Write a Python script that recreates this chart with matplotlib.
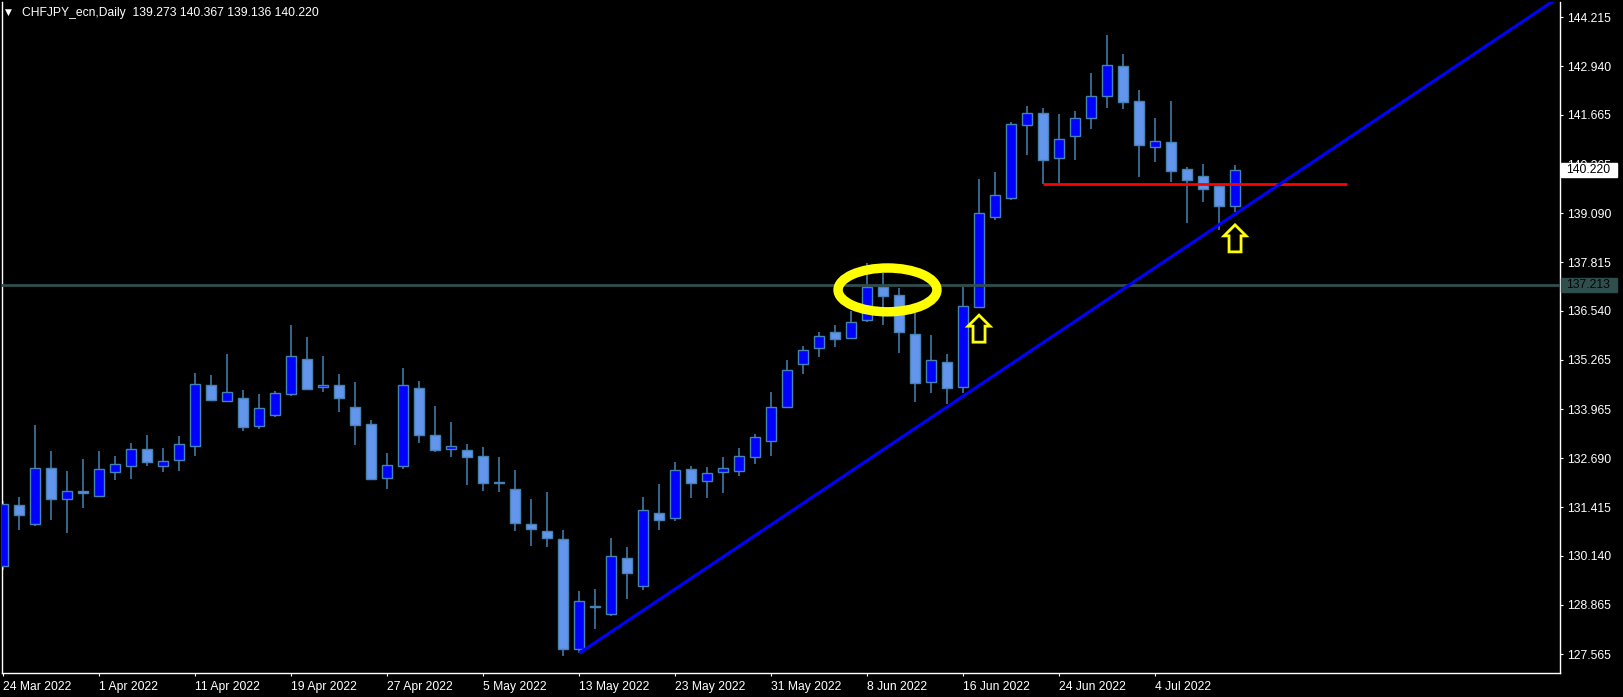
import numpy as np
import pandas as pd
import matplotlib
matplotlib.use("Agg")
from matplotlib import pyplot as plt
from matplotlib import patches, transforms

plt.rcParams['font.family'] = ['Liberation Sans', 'DejaVu Sans']

# daily bars, 24 Mar 2022 .. 11 Jul 2022
dates = pd.bdate_range("2022-03-24", "2022-07-11")

opens = [129.87, 131.47, 130.98, 132.43, 131.63, 131.83, 131.71, 132.32, 132.48, 132.92,
         132.48, 132.65, 133.00, 134.60, 134.18, 134.27, 133.54, 133.83, 134.38, 135.28,
         134.54, 134.60, 134.03, 133.58, 132.17, 132.50, 134.53, 133.29, 132.92, 132.91,
         132.75, 132.07, 131.89, 130.97, 130.79, 130.58, 127.70, 128.83, 128.61, 130.08,
         129.35, 131.26, 131.13, 132.41, 132.09, 132.32, 132.35, 132.72, 133.13, 134.02,
         135.15, 135.56, 135.99, 135.83, 136.30, 137.17, 136.96, 135.94, 134.68, 135.20,
         134.54, 136.64, 139.00, 139.48, 141.39, 141.71, 140.53, 141.11, 141.58, 142.15,
         142.93, 142.03, 140.82, 140.96, 140.25, 140.07, 139.81, 139.273]
highs = [131.57, 131.68, 133.56, 132.88, 132.36, 132.67, 132.88, 132.75, 133.09, 133.30,
         132.96, 133.27, 134.92, 134.87, 135.42, 134.47, 134.37, 134.45, 136.17, 135.86,
         135.36, 134.89, 134.68, 133.69, 132.83, 135.05, 134.70, 134.06, 133.64, 133.06,
         132.98, 132.72, 132.38, 131.63, 131.81, 130.81, 129.22, 129.27, 130.61, 130.37,
         131.68, 132.02, 132.59, 132.49, 132.45, 132.72, 132.95, 133.32, 134.42, 135.26,
         135.62, 135.99, 136.17, 136.53, 137.79, 137.54, 137.14, 136.48, 135.91, 135.42,
         137.17, 139.99, 140.17, 141.47, 141.90, 141.84, 141.69, 141.77, 142.76, 143.75,
         143.26, 142.32, 141.58, 142.03, 140.30, 140.38, 139.85, 140.367]
lows = [129.77, 130.81, 130.93, 131.08, 130.74, 131.40, 131.68, 132.13, 132.16, 132.50,
        132.34, 132.36, 132.76, 134.21, 134.17, 133.41, 133.46, 133.78, 134.33, 134.50,
        134.43, 133.91, 133.04, 132.13, 131.89, 132.42, 133.10, 132.86, 132.73, 132.00,
        131.84, 131.82, 130.80, 130.40, 130.38, 127.52, 127.60, 128.24, 128.57, 129.02,
        129.25, 130.81, 131.05, 131.66, 131.66, 131.79, 132.23, 132.55, 132.76, 134.00,
        134.90, 135.34, 135.61, 135.80, 136.26, 136.18, 135.45, 134.17, 134.40, 134.10,
        134.39, 136.62, 138.93, 139.45, 140.62, 139.85, 139.88, 140.49, 141.30, 141.85,
        141.83, 140.05, 140.42, 139.92, 138.85, 139.40, 138.66, 139.136]
closes = [131.49, 131.21, 132.43, 131.63, 131.83, 131.78, 132.40, 132.53, 132.92, 132.60,
          132.61, 133.05, 134.62, 134.22, 134.41, 133.51, 134.00, 134.39, 135.35, 134.51,
          134.60, 134.27, 133.57, 132.16, 132.51, 134.60, 133.31, 132.91, 133.00, 132.73,
          132.05, 132.03, 131.01, 130.85, 130.61, 127.71, 128.95, 128.80, 130.13, 129.70,
          131.34, 131.08, 132.38, 132.05, 132.30, 132.43, 132.74, 133.24, 134.02, 134.99,
          135.51, 135.88, 135.81, 136.24, 137.16, 136.94, 136.00, 134.66, 135.25, 134.53,
          136.66, 139.09, 139.56, 141.42, 141.71, 140.49, 141.03, 141.58, 142.15, 142.96,
          142.01, 140.89, 140.97, 140.21, 139.97, 139.74, 139.29, 140.220]

price_ticks = [144.215, 142.940, 141.665, 140.365, 139.090, 137.815, 136.540,
               135.265, 133.965, 132.690, 131.415, 130.140, 128.865, 127.565]

level_price = 137.213
last_price = 140.220
resist_price = 139.85            # red line, from 21 Jun low
resist_from, resist_to = 65, 84
trend_pts = [(36.1, 127.62), (96.7, 144.59)]   # trend line from 13 May low
ellipse_center = (55.28, 137.09)
arrow_idx = [61, 77]
arrow_top = [136.43, 138.79]

header = "CHFJPY_ecn,Daily  139.273 140.367 139.136 140.220"

W, H = 1623, 697
fig = plt.figure(figsize=(W / 100, H / 100), dpi=100, facecolor='black')
ax = fig.add_axes([2 / W, 1 - 673 / H, 1558 / W, 671 / H])
ax.set_facecolor('black')

x = np.arange(len(dates))
o = np.array(opens)
c = np.array(closes)
bull = c >= o

# candles
ax.vlines(x, lows, highs, color='#4682B4', lw=1.1, zorder=2)
body_h = np.maximum(np.abs(c - o), 0.03)
ax.bar(x, body_h, bottom=np.minimum(o, c), width=0.62,
       color=np.where(bull, '#0000FF', '#6495ED'),
       edgecolor='#4682B4', linewidth=1.0, zorder=3)

# objects
ax.axhline(level_price, color='#2F4F4F', lw=2.0, zorder=4)
ax.hlines(resist_price, resist_from, resist_to, color='#FF0000', lw=2.0, zorder=4)
(x1, y1), (x2, y2) = trend_pts
slope = (y2 - y1) / (x2 - x1)
ax.plot([x1, 110], [y1, y1 + slope * (110 - x1)], color='#0000FF', lw=2.2, zorder=4)
ax.add_patch(patches.Ellipse(ellipse_center, 6.18, 1.145, fill=False,
                             ec='#FFFF00', lw=6.8, zorder=5))

px_x = 1 / 16.0      # bars per pixel
px_y = 1 / 38.26     # price per pixel
shape = [(0, 0), (11, 11), (6, 11), (6, 27), (-6, 27), (-6, 11), (-11, 11)]
for xi, top in zip(arrow_idx, arrow_top):
    verts = [(xi + dx * px_x, top - dy * px_y) for dx, dy in shape]
    ax.add_patch(patches.Polygon(verts, closed=True, fc='black', ec='#FFFF00',
                                 lw=2.0, joinstyle='miter', zorder=6))

ax.set_xlim(-0.0625, 97.31)
ax.set_ylim(127.077, 144.615)

# axes styling
for side in ['left', 'right', 'bottom']:
    ax.spines[side].set_color('white')
    ax.spines[side].set_linewidth(1.0)
ax.spines['top'].set_visible(False)

ax.yaxis.tick_right()
ax.set_yticks(price_ticks)
ax.set_yticklabels([f"{p:.3f}" for p in price_ticks])
ax.tick_params(axis='y', direction='out', length=2.2, width=0.8, colors='white',
               pad=2.6, labelsize=8.7)

xt = list(range(0, len(dates), 6))
ax.set_xticks(xt)
ax.set_xticklabels([f"{dates[i].day} {dates[i]:%b %Y}" for i in xt])
ax.tick_params(axis='x', direction='out', length=2.5, width=0.8, colors='white',
               pad=3, labelsize=8.7)
for lbl in ax.get_xticklabels():
    lbl.set_ha('left')

# price boxes on the scale
blend = transforms.blended_transform_factory(ax.transAxes, ax.transData)
bx0 = (1561 - 2) / 1558
bw = 56 / 1558
bh = 14 * px_y
for price, fc, tc in [(last_price, 'white', 'black'), (level_price, '#2F4F4F', '#050505')]:
    ax.add_patch(patches.Rectangle((bx0, price - bh / 2), bw, bh, transform=blend,
                                   fc=fc, ec=fc, clip_on=False, zorder=7))
    ax.text((1566 - 2) / 1558, price, f"{price:.3f}", transform=blend, color=tc,
            fontsize=8.7, va='center', ha='left', clip_on=False, zorder=8)

# header
fig.text(5 / W, 1 - 12.5 / H, "\u25BC", color='white', fontsize=6.5, va='center',
         family=['DejaVu Sans'])
fig.text(22 / W, 1 - 12.7 / H, header, color='white', fontsize=8.7, va='center')

fig.savefig("out.png", dpi=100, facecolor='black')
